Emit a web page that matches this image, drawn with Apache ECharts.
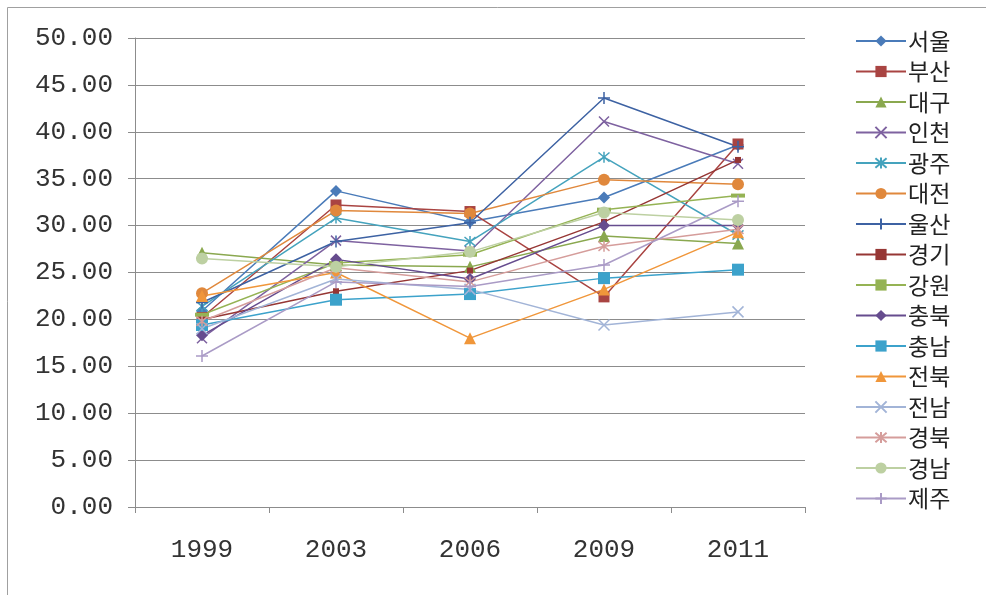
<!DOCTYPE html>
<html>
<head>
<meta charset="utf-8">
<script src="https://cdn.jsdelivr.net/npm/echarts@6/dist/echarts.min.js"></script>
<style>
  html, body { margin: 0; padding: 0; background: #fff; }
  #chart { width: 986px; height: 595px; }
</style>
</head>
<body>
<div id="chart"></div>
<script>
// Survey years on the category axis
const years = ['1999', '2003', '2006', '2009', '2011'];

// Region values per year
const seoul    = [20.9, 33.7, 30.4, 33.0, 38.6];
const busan    = [20.2, 32.2, 31.5, 22.4, 38.7];
const daegu    = [27.1, 25.8, 25.6, 28.9, 28.1];
const incheon  = [18.0, 28.4, 27.3, 41.1, 36.6];
const gwangju  = [21.4, 30.8, 28.3, 37.3, 29.0];
const daejeon  = [22.8, 31.6, 31.3, 34.9, 34.4];
const ulsan    = [21.8, 28.3, 30.3, 43.6, 38.4];
const gyeonggi = [20.0, 23.0, 25.2, 30.4, 37.0];
const gangwon  = [20.5, 26.0, 26.9, 31.7, 33.2];
const chungbuk = [18.3, 26.4, 24.3, 30.0, 30.0];
const chungnam = [19.4, 22.1, 22.7, 24.4, 25.3];
const jeonbuk  = [22.5, 25.0, 18.0, 23.2, 29.3];
const jeonnam  = [19.0, 24.3, 23.2, 19.4, 20.8];
const gyeongbuk = [19.8, 25.5, 24.0, 27.8, 29.6];
const gyeongnam = [26.5, 25.6, 27.2, 31.4, 30.6];
const jeju     = [16.1, 24.0, 23.5, 25.8, 32.6];

// Value axis ticks
const yMin = 0, yMax = 50, yStep = 5;

const X_PATH = 'path://M0,0L10,10M10,0L0,10';
const STAR_PATH = 'path://M0,0L10,10M10,0L0,10M5,-1L5,11';
const PLUS_PATH = 'path://M5,0L5,10M0,5L10,5';

const seriesDefs = [
  { name: '서울', data: seoul,     color: '#4A7BB9', symbol: 'diamond',  size: 12, open: false },
  { name: '부산', data: busan,     color: '#A94442', symbol: 'rect',     size: 11, open: false },
  { name: '대구', data: daegu,     color: '#8AA84F', symbol: 'triangle', size: 12, open: false },
  { name: '인천', data: incheon,   color: '#7E62A0', symbol: X_PATH,     size: 10, open: true },
  { name: '광주', data: gwangju,   color: '#45A3BD', symbol: STAR_PATH,  size: 11, open: true },
  { name: '대전', data: daejeon,   color: '#E0883C', symbol: 'circle',   size: 12, open: false },
  { name: '울산', data: ulsan,     color: '#3D62A3', symbol: PLUS_PATH,  size: 12, open: true },
  { name: '경기', data: gyeonggi,  color: '#963634', symbol: 'rect',     size: 6,  open: false },
  { name: '강원', data: gangwon,   color: '#95B354', symbol: 'rect',     size: [14, 4], open: false },
  { name: '충북', data: chungbuk,  color: '#664C8E', symbol: 'diamond',  size: 12, open: false },
  { name: '충남', data: chungnam,  color: '#3CA2CB', symbol: 'rect',     size: 12, open: false },
  { name: '전북', data: jeonbuk,   color: '#F0963A', symbol: 'triangle', size: 12, open: false },
  { name: '전남', data: jeonnam,   color: '#A2B4D7', symbol: X_PATH,     size: 11, open: true },
  { name: '경북', data: gyeongbuk, color: '#D59D9B', symbol: STAR_PATH,  size: 11, open: true },
  { name: '경남', data: gyeongnam, color: '#BDD0A2', symbol: 'circle',   size: 12, open: false },
  { name: '제주', data: jeju,      color: '#AA9BC6', symbol: PLUS_PATH,  size: 12, open: true }
];

const series = seriesDefs.map(d => ({
  name: d.name,
  type: 'line',
  data: d.data,
  symbol: d.symbol,
  symbolSize: d.size,
  showAllSymbol: true,
  lineStyle: { color: d.color, width: 1.5 },
  itemStyle: d.open
    ? { color: 'rgba(0,0,0,0)', borderColor: d.color, borderWidth: 1.5 }
    : { color: d.color, borderColor: d.color, borderWidth: 0 },
  emphasis: { disabled: true },
  animation: false
}));

const chart = echarts.init(document.getElementById('chart'), null, { renderer: 'canvas' });

chart.setOption({
  backgroundColor: '#ffffff',
  animation: false,
  graphic: [{
    type: 'rect',
    shape: { x: 7.5, y: 7.5, width: 1000, height: 620 },
    style: { fill: 'none', stroke: '#a0a0a0', lineWidth: 1 },
    silent: true,
    z: -10
  }],
  grid: { left: 135, right: 181, top: 38, bottom: 88, containLabel: false },
  legend: {
    orient: 'vertical',
    left: 850,
    top: 24,
    itemWidth: 50,
    itemHeight: 14,
    itemGap: 6.5,
    textStyle: { fontFamily: '"Noto Sans CJK KR", sans-serif', fontSize: 23, color: '#222', lineHeight: 24, padding: [0, 0, 0, -3] },
    data: seriesDefs.map(d => d.name)
  },
  xAxis: {
    type: 'category',
    data: years,
    boundaryGap: true,
    axisLine: { show: true, lineStyle: { color: '#8c8c8c', width: 1 } },
    axisTick: { show: true, length: 6, lineStyle: { color: '#8c8c8c' } },
    axisLabel: { margin: 30, fontFamily: '"Liberation Mono", monospace', fontSize: 26, color: '#333' },
    splitLine: { show: false }
  },
  yAxis: {
    type: 'value',
    min: yMin,
    max: yMax,
    interval: yStep,
    axisLine: { show: true, lineStyle: { color: '#8c8c8c', width: 1 } },
    axisTick: { show: true, length: 7, lineStyle: { color: '#8c8c8c' } },
    axisLabel: {
      margin: 22,
      fontFamily: '"Liberation Mono", monospace',
      fontSize: 26,
      color: '#333',
      formatter: v => v.toFixed(2)
    },
    splitLine: { show: true, lineStyle: { color: '#8c8c8c', width: 1 } }
  },
  series: series
});
</script>
</body>
</html>
